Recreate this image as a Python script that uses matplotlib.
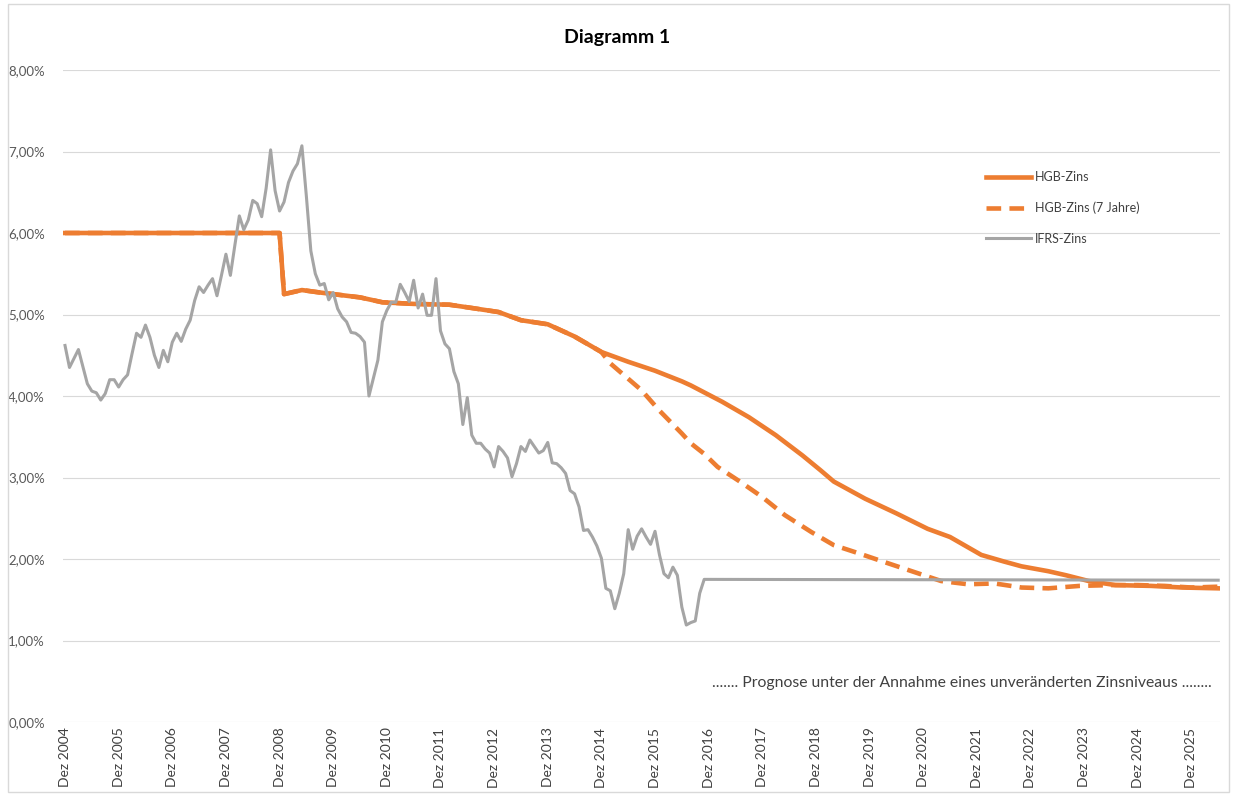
import numpy as np
import matplotlib
matplotlib.use('Agg')
import matplotlib.pyplot as plt
from matplotlib.patches import Rectangle

plt.rcParams['font.family'] = ['Lato', 'DejaVu Sans']

# IFRS-Zins, monthly from Dez 2004 (month 0) to Dez 2016, then flat to the end
ifrs = [4.62, 4.35, 4.46, 4.57, 4.36, 4.15, 4.06, 4.04, 3.95, 4.03, 4.20, 4.20,
        4.11, 4.20, 4.26, 4.52, 4.77, 4.72, 4.87, 4.72, 4.50, 4.35, 4.56, 4.42,
        4.66, 4.77, 4.67, 4.82, 4.93, 5.17, 5.34, 5.27, 5.36, 5.44, 5.23, 5.48,
        5.74, 5.48, 5.85, 6.21, 6.04, 6.16, 6.40, 6.36, 6.20, 6.55, 7.02, 6.52,
        6.27, 6.38, 6.62, 6.76, 6.85, 7.07, 6.45, 5.78, 5.50, 5.36, 5.38, 5.18,
        5.27, 5.07, 4.97, 4.91, 4.78, 4.77, 4.73, 4.66, 4.00, 4.22, 4.44, 4.91,
        5.05, 5.15, 5.15, 5.37, 5.27, 5.16, 5.42, 5.08, 5.25, 4.99, 4.99, 5.44,
        4.80, 4.64, 4.58, 4.30, 4.15, 3.65, 3.98, 3.52, 3.42, 3.42, 3.35, 3.30,
        3.13, 3.38, 3.32, 3.24, 3.01, 3.17, 3.38, 3.32, 3.46, 3.38, 3.30, 3.33,
        3.43, 3.18, 3.17, 3.12, 3.05, 2.84, 2.80, 2.64, 2.35, 2.36, 2.27, 2.16,
        2.01, 1.64, 1.61, 1.39, 1.58, 1.82, 2.36, 2.12, 2.28, 2.37, 2.27, 2.18,
        2.34, 2.05, 1.82, 1.77, 1.90, 1.80, 1.41, 1.19, 1.22, 1.24, 1.58, 1.75]
ifrs_end_month = 258
ifrs_end_val = 1.74

# HGB-Zins (month index, value in %)
hgb_m = [0, 48, 49, 53, 57, 63, 66, 71, 78, 86, 91, 97, 102, 108, 114, 120,
         126, 132, 138, 140, 147, 153, 159, 165, 169, 172, 179, 186, 193, 198,
         205, 210, 214, 220, 224, 229, 235, 243, 250, 258]
hgb_v = [6.00, 6.00, 5.25, 5.30, 5.27, 5.23, 5.21, 5.15, 5.13, 5.12, 5.08, 5.03,
         4.93, 4.88, 4.73, 4.54, 4.42, 4.31, 4.18, 4.13, 3.93, 3.74, 3.52, 3.27,
         3.09, 2.95, 2.74, 2.56, 2.37, 2.27, 2.05, 1.97, 1.91, 1.85, 1.80, 1.73,
         1.68, 1.67, 1.65, 1.64]

# HGB-Zins (7 Jahre): same as HGB up to Dez 2014, then its own path
hgb7_m_after = [122, 129, 133, 138, 140, 143, 146, 151, 156, 161, 167, 172, 177,
                184, 190, 196, 202, 208, 214, 220, 227, 234, 240, 246, 252, 258]
hgb7_v_after = [4.40, 4.07, 3.82, 3.54, 3.42, 3.29, 3.13, 2.95, 2.76, 2.54, 2.33,
                2.17, 2.08, 1.95, 1.84, 1.73, 1.69, 1.70, 1.65, 1.64, 1.67, 1.68,
                1.68, 1.67, 1.65, 1.66]

years = list(range(2004, 2026))
tick_labels = ['Dez %d' % y for y in years]
y_ticks = [0, 1, 2, 3, 4, 5, 6, 7, 8]

orange = '#ED7D31'
grey = '#A5A5A5'

n_shared = hgb_m.index(120) + 1
hgb7_m = hgb_m[:n_shared] + hgb7_m_after
hgb7_v = hgb_v[:n_shared] + hgb7_v_after

ifrs_m = list(range(len(ifrs))) + [ifrs_end_month]
ifrs_v = ifrs + [ifrs_end_val]

W, H = 1233, 796
fig = plt.figure(figsize=(W / 100, H / 100), dpi=100)
ax = fig.add_axes([63 / W, 74 / H, (1220 - 63) / W, (722 - 70) / H])

ax.plot(hgb_m, hgb_v, color=orange, lw=3.3, solid_joinstyle='round',
        label='HGB-Zins', zorder=3)
ax.plot(hgb7_m, hgb7_v, color=orange, lw=3.3, linestyle=(0, (3.2, 1.8)),
        label='HGB-Zins (7 Jahre)', zorder=4)
ax.plot(ifrs_m, ifrs_v, color=grey, lw=2.2, solid_joinstyle='round',
        label='IFRS-Zins', zorder=5)

ax.set_xlim(-0.45, 258.4)
ax.set_ylim(0, 8)
ax.set_xticks([12 * i for i in range(len(years))])
ax.set_xticklabels(tick_labels, rotation=90, fontsize=10, color='#404040')
ax.set_yticks(y_ticks)
ax.set_yticklabels(['%d,00%%' % v for v in y_ticks], fontsize=9.5, color='#595959')
ax.tick_params(axis='both', length=0)
ax.tick_params(axis='y', pad=13)
ax.tick_params(axis='x', pad=4)
ax.grid(axis='y', color='#d9d9d9', lw=0.8)
ax.set_axisbelow(True)
for s in ax.spines.values():
    s.set_visible(False)

leg = ax.legend(loc='upper left', bbox_to_anchor=(986 / W, 1 - 171 / H),
                bbox_transform=fig.transFigure, frameon=False, fontsize=9,
                handlelength=3.6, handletextpad=0.3, labelspacing=1.48,
                borderpad=0, borderaxespad=0)
for t in leg.get_texts():
    t.set_color('#404040')

fig.text(617 / W, 1 - 38 / H, 'Diagramm 1', ha='center', va='center',
         fontsize=14, fontweight='bold', color='#000000')
fig.text(962 / W, 1 - 683 / H,
         '....... Prognose unter der Annahme eines unveränderten Zinsniveaus ........',
         ha='center', va='center', fontsize=11.3, color='#404040')

fig.patches.append(Rectangle((8 / W, 4 / H), (1229 - 8) / W, (792 - 4) / H,
                             transform=fig.transFigure, fill=False,
                             edgecolor='#d9d9d9', lw=1))

plt.savefig('out.png', dpi=100)
plt.close()
